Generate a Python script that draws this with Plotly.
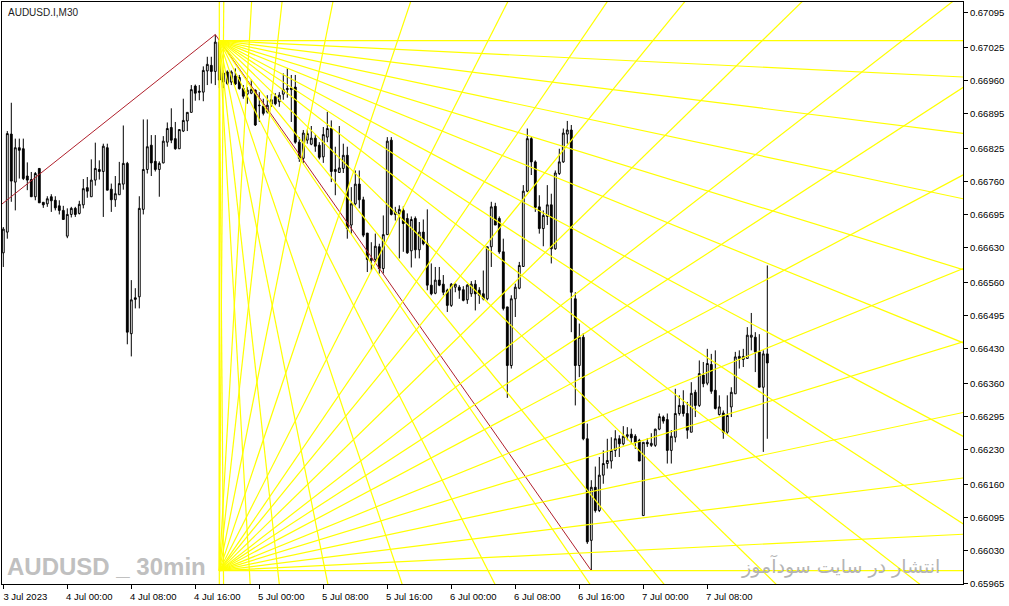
import math
import pandas as pd
import plotly.graph_objects as go

# AUDUSD.I M30, bars from 3 Jul 2023 16:00
START = pd.Timestamp("2023-07-03 16:00")
BAR = pd.Timedelta(minutes=30)

OPEN = [
    0.66619, 0.66660, 0.66854, 0.66759, 0.66827, 0.66825, 0.66771, 0.66764, 0.66730, 0.66786,
    0.66719, 0.66716, 0.66730, 0.66723, 0.66712, 0.66703, 0.66652, 0.66695, 0.66707, 0.66697,
    0.66714, 0.66748, 0.66730, 0.66763, 0.66784, 0.66780, 0.66827, 0.66745, 0.66724, 0.66734,
    0.66755, 0.66796, 0.66459, 0.66530, 0.66532, 0.66705, 0.66784, 0.66832, 0.66800, 0.66784,
    0.66797, 0.66838, 0.66867, 0.66845, 0.66825, 0.66860, 0.66880, 0.66897, 0.66949, 0.66939,
    0.66937, 0.66979, 0.66990, 0.66978, 0.67036, 0.66957, 0.66977, 0.66957, 0.66969, 0.66966,
    0.66944, 0.66933, 0.66935, 0.66941, 0.66910, 0.66909, 0.66898, 0.66913, 0.66928, 0.66918,
    0.66933, 0.66942, 0.66942, 0.66947, 0.66838, 0.66806, 0.66842, 0.66834, 0.66846, 0.66832,
    0.66809, 0.66848, 0.66865, 0.66780, 0.66778, 0.66786, 0.66812, 0.66674, 0.66716, 0.66755,
    0.66724, 0.66658, 0.66604, 0.66606, 0.66631, 0.66588, 0.66655, 0.66842, 0.66695, 0.66697,
    0.66703, 0.66687, 0.66623, 0.66687, 0.66625, 0.66660, 0.66637, 0.66555, 0.66539, 0.66565,
    0.66557, 0.66545, 0.66515, 0.66551, 0.66551, 0.66546, 0.66526, 0.66538, 0.66557, 0.66545,
    0.66538, 0.66528, 0.66631, 0.66711, 0.66687, 0.66621, 0.66512, 0.66396, 0.66528, 0.66549,
    0.66592, 0.66741, 0.66845, 0.66799, 0.66710, 0.66667, 0.66691, 0.66714, 0.66627, 0.66776,
    0.66799, 0.66854, 0.66862, 0.66528, 0.66396, 0.66452, 0.66251, 0.66050, 0.66155, 0.66109,
    0.66179, 0.66202, 0.66207, 0.66228, 0.66251, 0.66241, 0.66256, 0.66260, 0.66256, 0.66248,
    0.66099, 0.66244, 0.66238, 0.66238, 0.66270, 0.66294, 0.66289, 0.66228, 0.66254, 0.66301,
    0.66317, 0.66301, 0.66264, 0.66343, 0.66317, 0.66377, 0.66361, 0.66398, 0.66347, 0.66299,
    0.66302, 0.66264, 0.66314, 0.66340, 0.66410, 0.66408, 0.66410, 0.66452, 0.66452, 0.66423,
    0.66353, 0.66419,
]
HIGH = [
    0.66670, 0.66860, 0.66916, 0.66845, 0.66845, 0.66845, 0.66798, 0.66779, 0.66779, 0.66786,
    0.66719, 0.66731, 0.66735, 0.66731, 0.66723, 0.66712, 0.66707, 0.66710, 0.66710, 0.66722,
    0.66765, 0.66769, 0.66804, 0.66837, 0.66802, 0.66835, 0.66835, 0.66756, 0.66771, 0.66799,
    0.66871, 0.66799, 0.66565, 0.66549, 0.66731, 0.66883, 0.66883, 0.66852, 0.66852, 0.66800,
    0.66850, 0.66877, 0.66905, 0.66878, 0.66863, 0.66924, 0.66897, 0.66951, 0.66952, 0.66951,
    0.66988, 0.67007, 0.67007, 0.67051, 0.67040, 0.66980, 0.66980, 0.66980, 0.66984, 0.66971,
    0.66951, 0.66947, 0.66962, 0.66942, 0.66937, 0.66924, 0.66931, 0.66933, 0.66935, 0.66937,
    0.66974, 0.66984, 0.66971, 0.66971, 0.66848, 0.66862, 0.66863, 0.66870, 0.66853, 0.66838,
    0.66868, 0.66898, 0.66881, 0.66829, 0.66870, 0.66835, 0.66829, 0.66749, 0.66782, 0.66782,
    0.66730, 0.66658, 0.66640, 0.66657, 0.66637, 0.66693, 0.66848, 0.66848, 0.66710, 0.66713,
    0.66711, 0.66697, 0.66691, 0.66691, 0.66680, 0.66685, 0.66705, 0.66598, 0.66591, 0.66591,
    0.66575, 0.66548, 0.66559, 0.66558, 0.66555, 0.66553, 0.66557, 0.66563, 0.66565, 0.66551,
    0.66584, 0.66631, 0.66720, 0.66718, 0.66691, 0.66647, 0.66512, 0.66535, 0.66558, 0.66601,
    0.66753, 0.66865, 0.66848, 0.66802, 0.66733, 0.66703, 0.66753, 0.66736, 0.66782, 0.66825,
    0.66865, 0.66880, 0.66872, 0.66541, 0.66479, 0.66460, 0.66281, 0.66169, 0.66196, 0.66215,
    0.66228, 0.66251, 0.66254, 0.66268, 0.66258, 0.66276, 0.66274, 0.66271, 0.66260, 0.66251,
    0.66244, 0.66252, 0.66262, 0.66271, 0.66301, 0.66297, 0.66301, 0.66268, 0.66350, 0.66337,
    0.66347, 0.66324, 0.66363, 0.66348, 0.66406, 0.66403, 0.66429, 0.66419, 0.66426, 0.66337,
    0.66307, 0.66337, 0.66353, 0.66423, 0.66426, 0.66429, 0.66472, 0.66500, 0.66462, 0.66458,
    0.66426, 0.66594,
]
LOW = [
    0.66591, 0.66647, 0.66720, 0.66703, 0.66766, 0.66763, 0.66743, 0.66730, 0.66723, 0.66718,
    0.66708, 0.66710, 0.66700, 0.66703, 0.66695, 0.66685, 0.66648, 0.66689, 0.66690, 0.66695,
    0.66707, 0.66728, 0.66730, 0.66752, 0.66764, 0.66690, 0.66743, 0.66700, 0.66710, 0.66734,
    0.66744, 0.66438, 0.66414, 0.66509, 0.66509, 0.66695, 0.66776, 0.66771, 0.66780, 0.66730,
    0.66796, 0.66829, 0.66836, 0.66823, 0.66825, 0.66858, 0.66860, 0.66897, 0.66920, 0.66921,
    0.66919, 0.66951, 0.66954, 0.66951, 0.66945, 0.66945, 0.66951, 0.66951, 0.66951, 0.66942,
    0.66924, 0.66914, 0.66933, 0.66870, 0.66878, 0.66891, 0.66895, 0.66908, 0.66911, 0.66908,
    0.66922, 0.66926, 0.66878, 0.66835, 0.66799, 0.66797, 0.66835, 0.66832, 0.66819, 0.66804,
    0.66797, 0.66838, 0.66759, 0.66733, 0.66777, 0.66777, 0.66647, 0.66657, 0.66713, 0.66707,
    0.66650, 0.66581, 0.66584, 0.66601, 0.66578, 0.66578, 0.66655, 0.66693, 0.66683, 0.66608,
    0.66621, 0.66617, 0.66590, 0.66608, 0.66608, 0.66634, 0.66545, 0.66535, 0.66537, 0.66553,
    0.66535, 0.66502, 0.66512, 0.66541, 0.66528, 0.66523, 0.66518, 0.66532, 0.66505, 0.66518,
    0.66525, 0.66525, 0.66591, 0.66674, 0.66617, 0.66505, 0.66332, 0.66390, 0.66492, 0.66547,
    0.66591, 0.66739, 0.66773, 0.66700, 0.66657, 0.66632, 0.66674, 0.66598, 0.66625, 0.66773,
    0.66797, 0.66835, 0.66462, 0.66317, 0.66373, 0.66248, 0.66043, 0.65990, 0.66105, 0.66106,
    0.66162, 0.66192, 0.66192, 0.66215, 0.66215, 0.66238, 0.66248, 0.66241, 0.66231, 0.66207,
    0.66099, 0.66235, 0.66235, 0.66235, 0.66268, 0.66281, 0.66202, 0.66202, 0.66244, 0.66297,
    0.66295, 0.66251, 0.66264, 0.66294, 0.66314, 0.66353, 0.66357, 0.66340, 0.66309, 0.66297,
    0.66251, 0.66261, 0.66294, 0.66340, 0.66390, 0.66393, 0.66410, 0.66426, 0.66383, 0.66353,
    0.66225, 0.66251,
]
CLOSE = [
    0.66666, 0.66855, 0.66761, 0.66827, 0.66822, 0.66766, 0.66763, 0.66730, 0.66776, 0.66718,
    0.66714, 0.66726, 0.66722, 0.66708, 0.66703, 0.66685, 0.66695, 0.66707, 0.66695, 0.66715,
    0.66746, 0.66741, 0.66763, 0.66786, 0.66780, 0.66830, 0.66743, 0.66724, 0.66736, 0.66756,
    0.66796, 0.66462, 0.66526, 0.66527, 0.66707, 0.66784, 0.66829, 0.66797, 0.66784, 0.66796,
    0.66840, 0.66865, 0.66842, 0.66825, 0.66863, 0.66881, 0.66897, 0.66942, 0.66935, 0.66937,
    0.66980, 0.66992, 0.66978, 0.67036, 0.66961, 0.66975, 0.66954, 0.66977, 0.66953, 0.66944,
    0.66929, 0.66941, 0.66942, 0.66872, 0.66911, 0.66895, 0.66911, 0.66922, 0.66914, 0.66931,
    0.66942, 0.66944, 0.66945, 0.66838, 0.66806, 0.66856, 0.66855, 0.66846, 0.66830, 0.66808,
    0.66853, 0.66865, 0.66780, 0.66784, 0.66787, 0.66812, 0.66667, 0.66716, 0.66755, 0.66724,
    0.66654, 0.66606, 0.66608, 0.66632, 0.66588, 0.66655, 0.66840, 0.66695, 0.66700, 0.66705,
    0.66677, 0.66619, 0.66685, 0.66625, 0.66660, 0.66637, 0.66555, 0.66538, 0.66565, 0.66555,
    0.66541, 0.66515, 0.66557, 0.66557, 0.66545, 0.66525, 0.66555, 0.66557, 0.66538, 0.66535,
    0.66528, 0.66631, 0.66710, 0.66674, 0.66621, 0.66509, 0.66396, 0.66528, 0.66551, 0.66594,
    0.66741, 0.66845, 0.66799, 0.66709, 0.66667, 0.66693, 0.66714, 0.66627, 0.66777, 0.66799,
    0.66856, 0.66862, 0.66541, 0.66396, 0.66452, 0.66251, 0.66047, 0.66155, 0.66109, 0.66179,
    0.66202, 0.66208, 0.66228, 0.66251, 0.66241, 0.66256, 0.66259, 0.66253, 0.66244, 0.66207,
    0.66244, 0.66241, 0.66242, 0.66270, 0.66295, 0.66286, 0.66228, 0.66256, 0.66301, 0.66317,
    0.66301, 0.66268, 0.66341, 0.66317, 0.66380, 0.66360, 0.66400, 0.66345, 0.66311, 0.66314,
    0.66264, 0.66297, 0.66343, 0.66413, 0.66414, 0.66414, 0.66456, 0.66456, 0.66423, 0.66353,
    0.66419, 0.66401,
]

# zigzag swing points (bar index, price)
ZIGZAG_BARS = [-6, 53, 147]
ZIGZAG_PRICES = [0.66680, 0.67051, 0.65990]

# fan lines: top fan opens downwards, bottom fan opens upwards
FAN_BAR = 54
FAN_TOP = 0.67039
FAN_BOTTOM = 0.65990
FAN_ANGLES = [0, 2.8, 7.1, 12.0, 17.1, 22.1, 28.0, 33.0, 37.8, 44.3,
              50.7, 55.7, 63.1, 71.4, 78.7, 83.7, 86.75, 89.55, 90]
GANN_UNIT = 0.0000792  # price per bar on a 45 degree line

PRICE_TICKS = [0.67095, 0.67025, 0.66960, 0.66895, 0.66825, 0.66760, 0.66695, 0.66630, 0.66560,
               0.66495, 0.66430, 0.66360, 0.66295, 0.66230, 0.66160, 0.66095, 0.66030, 0.65965]
TIME_TICK_BARS = [0, 16, 32, 48, 64, 80, 96, 112, 128, 144, 160, 176]
TIME_TICK_TEXT = ['3 Jul 2023', '4 Jul 00:00', '4 Jul 08:00', '4 Jul 16:00', '5 Jul 00:00',
                  '5 Jul 08:00', '5 Jul 16:00', '6 Jul 00:00', '6 Jul 08:00', '6 Jul 16:00',
                  '7 Jul 00:00', '7 Jul 08:00']


def bar_time(b):
    return START + BAR * b


times = [bar_time(i) for i in range(len(OPEN))]

fig = go.Figure()

fig.add_trace(go.Candlestick(
    x=times, open=OPEN, high=HIGH, low=LOW, close=CLOSE,
    increasing=dict(fillcolor='white', line=dict(color='black', width=1)),
    decreasing=dict(fillcolor='black', line=dict(color='black', width=1)),
    whiskerwidth=0,
    hoverinfo='skip',
    showlegend=False,
))

fig.add_trace(go.Scatter(
    x=[bar_time(b) for b in ZIGZAG_BARS], y=ZIGZAG_PRICES,
    mode='lines', line=dict(color='#b0202c', width=1),
    hoverinfo='skip', showlegend=False,
))

# fan rays, drawn long and clipped by the axes
fx, fy = [], []
R = 600
for a in FAN_ANGLES:
    rad = math.radians(a)
    dx = R * math.cos(rad)
    dy = R * math.sin(rad) * GANN_UNIT
    fx += [bar_time(FAN_BAR), bar_time(FAN_BAR + dx), None]
    fy += [FAN_TOP, FAN_TOP - dy, None]
    fx += [bar_time(FAN_BAR), bar_time(FAN_BAR + dx), None]
    fy += [FAN_BOTTOM, FAN_BOTTOM + dy, None]

fig.add_trace(go.Scatter(
    x=fx, y=fy, mode='lines', line=dict(color='#ffff00', width=1.2),
    hoverinfo='skip', showlegend=False, connectgaps=False,
))

fig.add_annotation(
    text='AUDUSD.I,M30', xref='paper', yref='paper', x=0, y=1,
    xanchor='left', yanchor='top', xshift=4, yshift=-3, showarrow=False,
    font=dict(family='Liberation Sans, Arial, sans-serif', size=10, color='#1c1c1c'),
)
fig.add_annotation(
    text='<b>AUDUSD _ 30min</b>', xref='paper', yref='paper', x=0, y=0,
    xanchor='left', yanchor='bottom', xshift=3, yshift=2, showarrow=False,
    font=dict(family='Liberation Sans, Arial, sans-serif', size=24, color='#c0c0c0'),
)
fig.add_annotation(
    text='انتشار در سایت سودآموز', xref='paper', yref='paper', x=0.978, y=0,
    xanchor='right', yanchor='bottom', yshift=4, showarrow=False,
    font=dict(family='DejaVu Sans, sans-serif', size=19, color='#b4b4b4'),
)

axis_font = dict(family='Liberation Sans, Arial, sans-serif', size=9.5, color='black')

fig.update_layout(
    width=1009, height=606,
    margin=dict(l=2, r=46, t=2, b=22),
    paper_bgcolor='white', plot_bgcolor='white',
    boxgap=0.35,
    hovermode=False,
    xaxis=dict(
        range=[bar_time(-0.325), bar_time(239.925)],
        rangeslider=dict(visible=False),
        showgrid=False, zeroline=False,
        showline=True, linecolor='black', linewidth=1, mirror=True,
        ticks='outside', ticklen=4, tickcolor='black',
        tickvals=[bar_time(b) for b in TIME_TICK_BARS], ticktext=TIME_TICK_TEXT,
        ticklabelshift=22, tickfont=axis_font, automargin=False,
    ),
    yaxis=dict(
        range=[0.659636, 0.671154],
        side='right',
        showgrid=False, zeroline=False,
        showline=True, linecolor='black', linewidth=1, mirror=True,
        ticks='outside', ticklen=4, tickcolor='black',
        tickvals=PRICE_TICKS, ticktext=[f'{p:.5f}' for p in PRICE_TICKS],
        tickfont=axis_font, automargin=False,
    ),
)

# the page body has a default 8px margin; drop it so the figure sits at the top-left corner
fig.write_html(
    "out.html",
    config={'displayModeBar': False},
    post_script="document.body.style.margin='0px';",
)
